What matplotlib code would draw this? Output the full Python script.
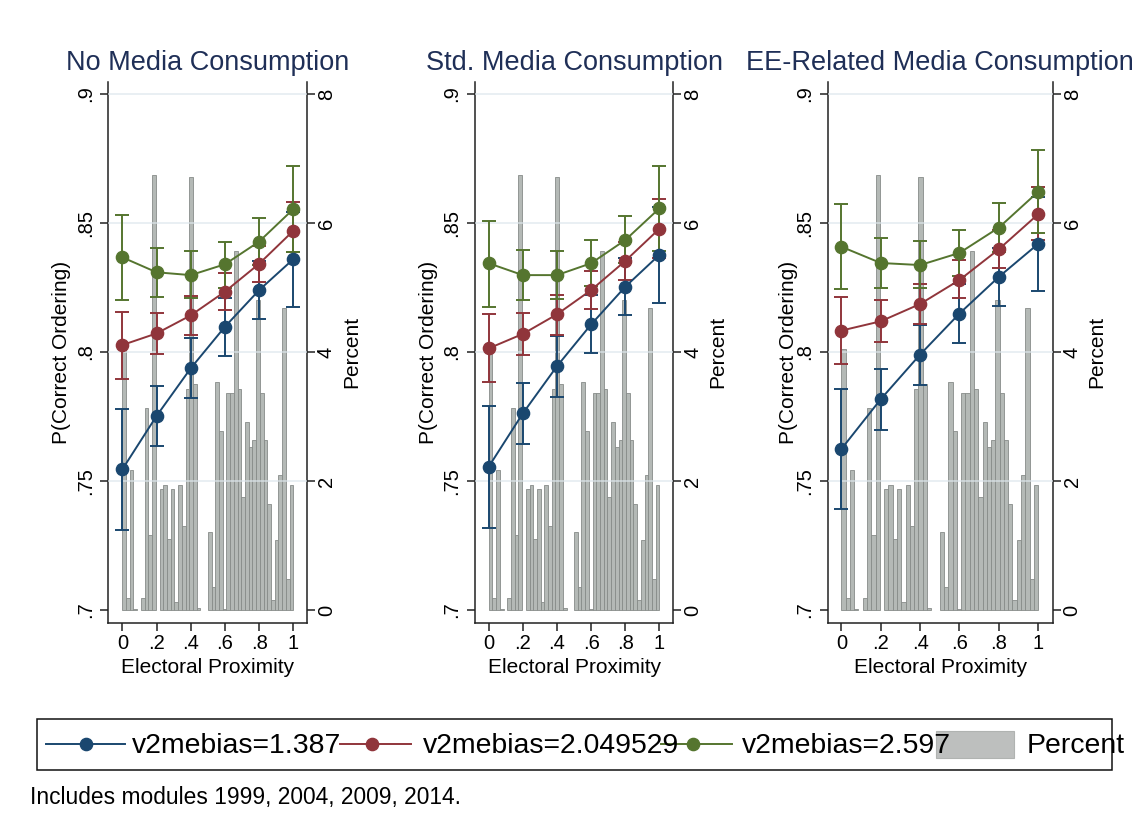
import numpy as np
import matplotlib
matplotlib.use("Agg")
import matplotlib.pyplot as plt
from matplotlib.lines import Line2D
from matplotlib.patches import Rectangle

plt.rcParams['font.family'] = ['Liberation Sans', 'DejaVu Sans']

# ---------------- data ----------------
panel_titles = ["No Media Consumption", "Std. Media Consumption", "EE-Related Media Consumption"]
proximity = [0.0, 0.2, 0.4, 0.6, 0.8, 1.0]
x_tick_labels = ["0", ".2", ".4", ".6", ".8", "1"]
y_ticks = [0.7, 0.75, 0.8, 0.85, 0.9]
y_tick_labels = [".7", ".75", ".8", ".85", ".9"]
pct_ticks = [0, 2, 4, 6, 8]
pct_tick_labels = ["0", "2", "4", "6", "8"]
series_labels = ["v2mebias=1.387", "v2mebias=2.049529", "v2mebias=2.597"]
hist_label = "Percent"
x_label = "Electoral Proximity"
y_label = "P(Correct Ordering)"
note_text = "Includes modules 1999, 2004, 2009, 2014."

# histogram of electoral proximity (percent per bin, 46 equal bins on [0, 1])
hist_percent = [4.05, 0.18, 2.17, 0.02, 0.0, 0.18, 3.13, 1.16, 6.74, 0.0,
                1.88, 1.94, 1.10, 1.88, 0.12, 1.94, 1.30, 3.43, 6.71, 3.50,
                0.03, 0.0, 0.0, 1.21, 0.36, 3.54, 2.77, 0.02, 3.36, 3.36,
                5.57, 3.43, 1.75, 2.92, 2.53, 2.64, 4.80, 3.36, 2.64, 1.65,
                0.16, 1.08, 2.09, 4.68, 0.48, 1.94]

# No Media Consumption
nomedia_low = [0.7545, 0.7752, 0.7937, 0.8098, 0.8240, 0.8360]
nomedia_low_lo = [0.7310, 0.7636, 0.7820, 0.7986, 0.8129, 0.8176]
nomedia_low_hi = [0.7778, 0.7869, 0.8053, 0.8211, 0.8351, 0.8544]
nomedia_mid = [0.8027, 0.8072, 0.8142, 0.8234, 0.8342, 0.8470]
nomedia_mid_lo = [0.7894, 0.7993, 0.8066, 0.8163, 0.8273, 0.8389]
nomedia_mid_hi = [0.8155, 0.8150, 0.8217, 0.8305, 0.8411, 0.8583]
nomedia_high = [0.8367, 0.8309, 0.8298, 0.8340, 0.8428, 0.8554]
nomedia_high_lo = [0.8203, 0.8214, 0.8208, 0.8249, 0.8337, 0.8389]
nomedia_high_hi = [0.8531, 0.8403, 0.8391, 0.8428, 0.8519, 0.8721]

# Std. Media Consumption
std_low = [0.7555, 0.7762, 0.7945, 0.8107, 0.8253, 0.8377]
std_low_lo = [0.7319, 0.7642, 0.7827, 0.7995, 0.8142, 0.8191]
std_low_hi = [0.7791, 0.7881, 0.8062, 0.8220, 0.8364, 0.8563]
std_mid = [0.8014, 0.8070, 0.8146, 0.8240, 0.8353, 0.8478]
std_mid_lo = [0.7882, 0.7988, 0.8066, 0.8167, 0.8279, 0.8364]
std_mid_hi = [0.8147, 0.8150, 0.8222, 0.8314, 0.8427, 0.8592]
std_high = [0.8344, 0.8298, 0.8298, 0.8344, 0.8434, 0.8557]
std_high_lo = [0.8176, 0.8202, 0.8204, 0.8256, 0.8344, 0.8391]
std_high_hi = [0.8509, 0.8395, 0.8391, 0.8434, 0.8527, 0.8722]

# EE-Related Media Consumption
ee_low = [0.7624, 0.7817, 0.7990, 0.8149, 0.8291, 0.8419]
ee_low_lo = [0.7391, 0.7698, 0.7872, 0.8035, 0.8180, 0.8236]
ee_low_hi = [0.7857, 0.7935, 0.8105, 0.8264, 0.8402, 0.8602]
ee_mid = [0.8083, 0.8119, 0.8186, 0.8279, 0.8398, 0.8534]
ee_mid_lo = [0.7952, 0.8038, 0.8107, 0.8208, 0.8324, 0.8436]
ee_mid_hi = [0.8214, 0.8202, 0.8264, 0.8357, 0.8473, 0.8640]
ee_high = [0.8408, 0.8345, 0.8337, 0.8384, 0.8482, 0.8621]
ee_high_lo = [0.8245, 0.8249, 0.8247, 0.8295, 0.8389, 0.8462]
ee_high_hi = [0.8572, 0.8442, 0.8431, 0.8473, 0.8576, 0.8783]

panel_series = [
    [(nomedia_low, nomedia_low_lo, nomedia_low_hi),
     (nomedia_mid, nomedia_mid_lo, nomedia_mid_hi),
     (nomedia_high, nomedia_high_lo, nomedia_high_hi)],
    [(std_low, std_low_lo, std_low_hi),
     (std_mid, std_mid_lo, std_mid_hi),
     (std_high, std_high_lo, std_high_hi)],
    [(ee_low, ee_low_lo, ee_low_hi),
     (ee_mid, ee_mid_lo, ee_mid_hi),
     (ee_high, ee_high_lo, ee_high_hi)],
]

# ---------------- style ----------------
W, H = 1136, 833
series_colors = ["#1a476f", "#90353b", "#55752f"]
title_color = "#1f2f57"
bar_color = "#b4b9b6"
bar_edge = "#878c89"
spine_color = "#222222"
grid_color = "#dce6ec"

def fx(px):
    return px / W

def fy(py):
    return 1 - py / H

fig = plt.figure(figsize=(W / 100, H / 100), dpi=100)
fig.patch.set_facecolor("white")

ax_top_px, ax_bot_px = 82.0, 622.7
panel_lr = [(108.3, 306.7), (475.0, 673.3), (828.0, 1052.5)]
panel_xlim = [(-0.082, 1.078), (-0.080, 1.081), (-0.068, 1.073)]
ylabel_x = [62, 428, 789]
pctlabel_x = [352, 718, 1097]
ylim_l = (0.69508, 0.90465)
ylim_r = (-0.197, 8.186)

edges = np.linspace(0, 1, len(hist_percent) + 1)
heights = np.array(hist_percent)
mask = heights > 0

tick_fs = 14.5
for i in range(3):
    l, r = panel_lr[i]
    ax_h = fig.add_axes([fx(l), fy(ax_bot_px), (r - l) / W, (ax_bot_px - ax_top_px) / H])
    ax_l = ax_h.twinx()

    # histogram on the right (percent) axis
    ax_h.bar(edges[:-1][mask], heights[mask], width=edges[1] - edges[0], align="edge",
             color=bar_color, edgecolor=bar_edge, linewidth=0.6, zorder=2)
    ax_h.set_ylim(*ylim_r)
    ax_h.set_xlim(*panel_xlim[i])
    ax_h.yaxis.tick_right()
    ax_h.set_yticks(pct_ticks)
    ax_h.set_yticklabels(pct_tick_labels, rotation=90, va="center", fontsize=tick_fs)
    ax_h.set_xticks(proximity)
    ax_h.set_xticklabels(x_tick_labels, fontsize=tick_fs)
    ax_h.tick_params(axis="x", direction="out", length=5.8, width=1.1, color=spine_color, pad=2)
    ax_h.tick_params(axis="y", direction="out", length=5.8, width=1.1, color=spine_color, pad=1.5)
    for s in ["left", "right", "bottom"]:
        ax_h.spines[s].set_color(spine_color)
        ax_h.spines[s].set_linewidth(1.1)
    ax_h.spines["top"].set_visible(False)

    # probability lines on the left axis
    ax_l.yaxis.tick_left()
    ax_l.set_ylim(*ylim_l)
    ax_l.set_xlim(*panel_xlim[i])
    ax_l.set_yticks(y_ticks)
    ax_l.set_yticklabels(y_tick_labels, rotation=90, va="center", fontsize=tick_fs)
    ax_l.tick_params(axis="y", direction="out", length=5.8, width=1.1, color=spine_color, pad=4)
    for s in ax_l.spines.values():
        s.set_visible(False)
    for yt in y_ticks[1:]:
        ax_l.axhline(yt, color=grid_color, lw=1.2, alpha=0.75, zorder=1)

    for (mean, lo, hi), c in zip(panel_series[i], series_colors):
        mean = np.array(mean)
        yerr = [mean - np.array(lo), np.array(hi) - mean]
        ax_l.errorbar(proximity, mean, yerr=yerr, color=c, marker="o", ms=8.8, lw=1.4,
                      elinewidth=1.4, capsize=4.7, capthick=1.4, zorder=3)

    ax_h.set_title(panel_titles[i], fontsize=19.5, color=title_color, pad=9)

    fig.text(fx(ylabel_x[i]), fy(352), y_label, rotation=90, ha="center", va="center", fontsize=15)
    fig.text(fx(pctlabel_x[i]), fy(352), hist_label, rotation=90, ha="center", va="center", fontsize=15)
    fig.text(fx((l + r) / 2), fy(673.3), x_label, ha="center", va="baseline", fontsize=15)

# ---------------- legend ----------------
fig.add_artist(Rectangle((fx(37), fy(770)), fx(1112) - fx(37), fy(719) - fy(770),
                         transform=fig.transFigure, fill=False, edgecolor="#111111", lw=1.1))
leg_y = 744
leg_line_x = [(45.5, 125, 86), (340, 411, 372), (661, 732, 693)]
leg_text_x = [132, 423, 742]
for (x0, x1, xm), tx, c, lab in zip(leg_line_x, leg_text_x, series_colors, series_labels):
    fig.add_artist(Line2D([fx(x0), fx(x1)], [fy(leg_y), fy(leg_y)], transform=fig.transFigure,
                          color=c, lw=1.4))
    fig.add_artist(Line2D([fx(xm)], [fy(leg_y)], transform=fig.transFigure, color=c,
                          marker="o", ms=8.8, lw=0))
    fig.text(fx(tx), fy(753), lab, ha="left", va="baseline", fontsize=20.4)
fig.add_artist(Rectangle((fx(936), fy(758.3)), fx(1014) - fx(936), fy(730.7) - fy(758.3),
                         transform=fig.transFigure, facecolor="#bdbfbe", edgecolor="#b0b3b1", lw=0.8))
fig.text(fx(1027), fy(753), hist_label, ha="left", va="baseline", fontsize=20.4)

fig.text(fx(30), fy(804), note_text, ha="left", va="baseline", fontsize=16.4)

fig.savefig("out.png", dpi=100, facecolor="white")
